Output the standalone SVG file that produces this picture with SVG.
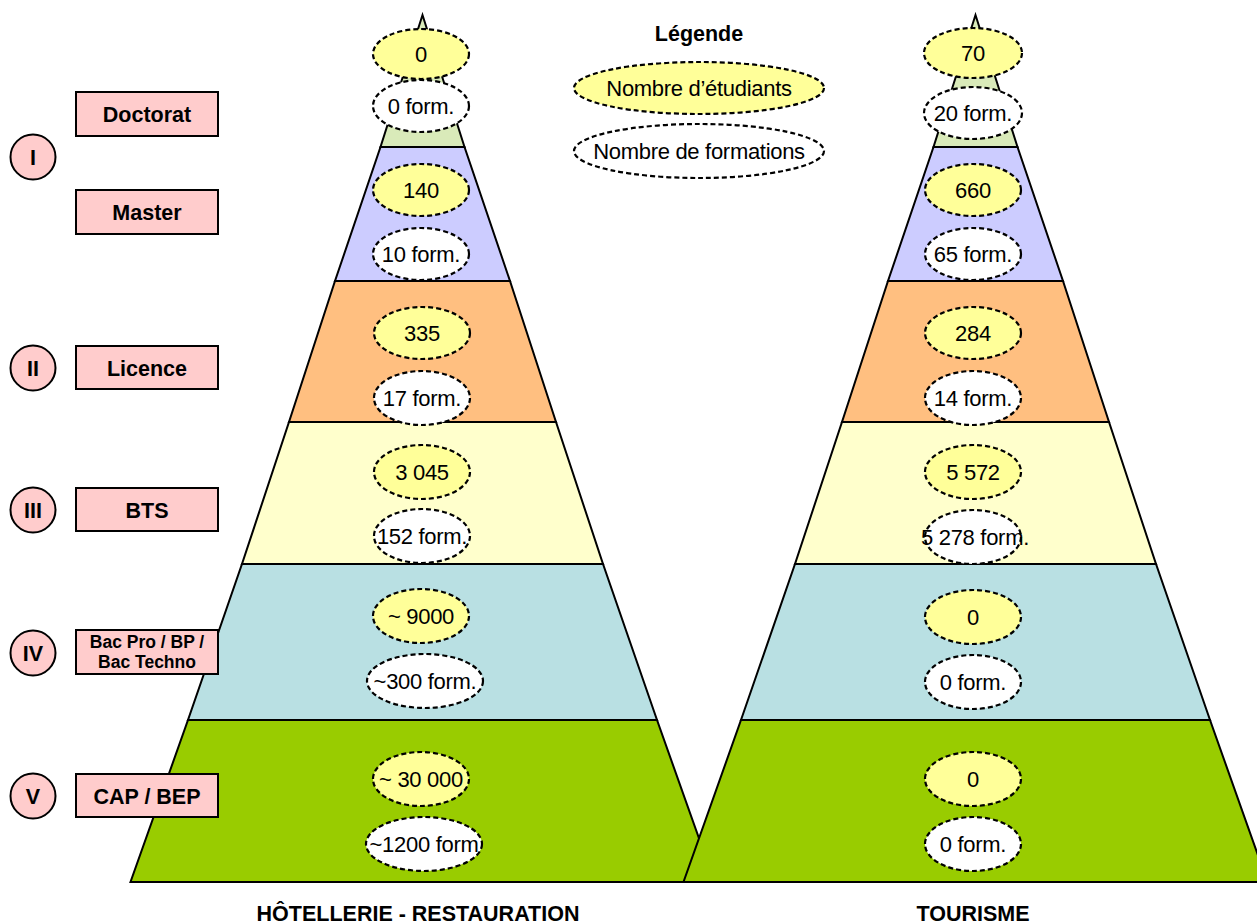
<svg xmlns="http://www.w3.org/2000/svg" width="1257" height="924" viewBox="0 0 1257 924">
<style>
.band{stroke:#000;stroke-width:2;stroke-linejoin:miter}
.b1{fill:#d9eab9}.b2{fill:#ccccff}.b3{fill:#ffbf80}.b4{fill:#ffffcc}.b5{fill:#b9e0e3}.b6{fill:#99cc00}
.ell{stroke:#000;stroke-width:2.2;stroke-dasharray:5 3}
.stu{fill:#ffff99}.frm{fill:#ffffff}
.t{font-family:"Liberation Sans",Arial,sans-serif;font-size:22px;fill:#000;text-anchor:middle;letter-spacing:-0.3px}
.lb{fill:#ffcccc;stroke:#000;stroke-width:2}
.bt{font-family:"Liberation Sans",Arial,sans-serif;font-weight:bold;font-size:21.5px;fill:#000;text-anchor:middle}
.bs{font-size:17.5px}
.title{font-size:21.5px}
</style>
<g id="pyramid-hotellerie">
<polygon class="band b1" points="422.5,15 464.5,147 380.5,147"/>
<polygon class="band b2" points="380.5,147 464.5,147 510,281 335,281"/>
<polygon class="band b3" points="335,281 510,281 556,422 289,422"/>
<polygon class="band b4" points="289,422 556,422 603,564 242,564"/>
<polygon class="band b5" points="242,564 603,564 657,720 188,720"/>
<polygon class="band b6" points="188,720 657,720 714.5,882 130.5,882"/>
</g>
<g id="pyramid-tourisme">
<polygon class="band b1" points="975.5,15 1017.5,147 933.5,147"/>
<polygon class="band b2" points="933.5,147 1017.5,147 1063,281 888,281"/>
<polygon class="band b3" points="888,281 1063,281 1109,422 842,422"/>
<polygon class="band b4" points="842,422 1109,422 1156,564 795,564"/>
<polygon class="band b5" points="795,564 1156,564 1210,720 741,720"/>
<polygon class="band b6" points="741,720 1210,720 1267.5,882 683.5,882"/>
</g>
<g id="legend">
<text class="bt" x="699" y="41">Légende</text>
<ellipse class="ell stu" cx="699" cy="88" rx="125" ry="26"/>
<text class="t" x="699" y="96">Nombre d’étudiants</text>
<ellipse class="ell frm" cx="699" cy="151" rx="125" ry="27"/>
<text class="t" x="699" y="159">Nombre de formations</text>
</g>
<g id="hotellerie-values">
<g id="h-doc-etu"><ellipse class="ell stu" cx="421" cy="54" rx="48" ry="25"/><text class="t" x="421" y="62">0</text></g>
<g id="h-doc-form"><ellipse class="ell frm" cx="421" cy="106" rx="48" ry="26"/><text class="t" x="421" y="114">0 form.</text></g>
<g id="h-mas-etu"><ellipse class="ell stu" cx="421" cy="190" rx="48" ry="26"/><text class="t" x="421" y="198">140</text></g>
<g id="h-mas-form"><ellipse class="ell frm" cx="421" cy="254" rx="48" ry="26"/><text class="t" x="421" y="262">10 form.</text></g>
<g id="h-lic-etu"><ellipse class="ell stu" cx="422" cy="333" rx="48" ry="26"/><text class="t" x="422" y="341">335</text></g>
<g id="h-lic-form"><ellipse class="ell frm" cx="422" cy="398" rx="48" ry="27"/><text class="t" x="422" y="406">17 form.</text></g>
<g id="h-bts-etu"><ellipse class="ell stu" cx="422" cy="472" rx="48" ry="27"/><text class="t" x="422" y="480">3 045</text></g>
<g id="h-bts-form"><ellipse class="ell frm" cx="422" cy="536" rx="48" ry="27"/><text class="t" x="422" y="544">152 form.</text></g>
<g id="h-bac-etu"><ellipse class="ell stu" cx="421" cy="616" rx="48" ry="27"/><text class="t" x="421" y="624">~ 9000</text></g>
<g id="h-bac-form"><ellipse class="ell frm" cx="425" cy="681" rx="58" ry="27"/><text class="t" x="425" y="689">~300 form.</text></g>
<g id="h-cap-etu"><ellipse class="ell stu" cx="421" cy="779" rx="48" ry="27"/><text class="t" x="421" y="787">~ 30 000</text></g>
<g id="h-cap-form"><ellipse class="ell frm" cx="424" cy="844" rx="58" ry="27"/><text class="t" x="424" y="852">~1200 form</text></g>
</g>
<g id="tourisme-values">
<g id="t-doc-etu"><ellipse class="ell stu" cx="973" cy="53" rx="49" ry="25"/><text class="t" x="973" y="61">70</text></g>
<g id="t-doc-form"><ellipse class="ell frm" cx="973" cy="113" rx="49" ry="26"/><text class="t" x="973" y="121">20 form.</text></g>
<g id="t-mas-etu"><ellipse class="ell stu" cx="973" cy="190" rx="48" ry="26"/><text class="t" x="973" y="198">660</text></g>
<g id="t-mas-form"><ellipse class="ell frm" cx="973" cy="254" rx="48" ry="26"/><text class="t" x="973" y="262">65 form.</text></g>
<g id="t-lic-etu"><ellipse class="ell stu" cx="973" cy="333" rx="48" ry="26"/><text class="t" x="973" y="341">284</text></g>
<g id="t-lic-form"><ellipse class="ell frm" cx="973" cy="398" rx="48" ry="27"/><text class="t" x="973" y="406">14 form.</text></g>
<g id="t-bts-etu"><ellipse class="ell stu" cx="973" cy="472" rx="48" ry="27"/><text class="t" x="973" y="480">5 572</text></g>
<g id="t-bts-form"><ellipse class="ell frm" cx="973" cy="537" rx="48" ry="27"/><text class="t" x="975" y="545">5 278 form.</text></g>
<g id="t-bac-etu"><ellipse class="ell stu" cx="973" cy="617" rx="48" ry="27"/><text class="t" x="973" y="625">0</text></g>
<g id="t-bac-form"><ellipse class="ell frm" cx="973" cy="682" rx="48" ry="27"/><text class="t" x="973" y="690">0 form.</text></g>
<g id="t-cap-etu"><ellipse class="ell stu" cx="973" cy="779" rx="48" ry="27"/><text class="t" x="973" y="787">0</text></g>
<g id="t-cap-form"><ellipse class="ell frm" cx="973" cy="844" rx="48" ry="27"/><text class="t" x="973" y="852">0 form.</text></g>
</g>
<g id="levels">
<g id="level-I"><circle class="lb" cx="33" cy="157" r="22.5"/><text class="bt" x="33" y="165">I</text></g>
<g id="level-II"><circle class="lb" cx="33" cy="368" r="22.5"/><text class="bt" x="33" y="376">II</text></g>
<g id="level-III"><circle class="lb" cx="33" cy="510" r="22.5"/><text class="bt" x="33" y="518">III</text></g>
<g id="level-IV"><circle class="lb" cx="33" cy="653" r="22.5"/><text class="bt" x="33" y="661">IV</text></g>
<g id="level-V"><circle class="lb" cx="33" cy="796" r="22.5"/><text class="bt" x="33" y="804">V</text></g>
</g>
<g id="diplomas">
<g id="doctorat"><rect class="lb" x="76" y="92" width="142" height="44"/><text class="bt" x="147" y="122">Doctorat</text></g>
<g id="master"><rect class="lb" x="76" y="190" width="142" height="44"/><text class="bt" x="147" y="220">Master</text></g>
<g id="licence"><rect class="lb" x="76" y="346" width="142" height="43"/><text class="bt" x="147" y="376">Licence</text></g>
<g id="bts"><rect class="lb" x="76" y="488" width="142" height="43"/><text class="bt" x="147" y="518">BTS</text></g>
<g id="bacpro"><rect class="lb" x="76" y="630" width="142" height="44"/><text class="bt bs" x="147" y="648">Bac Pro / BP /</text><text class="bt bs" x="147" y="668">Bac Techno</text></g>
<g id="cap"><rect class="lb" x="76" y="774" width="142" height="43"/><text class="bt" x="147" y="804">CAP / BEP</text></g>
</g>
<g id="titles">
<text class="bt title" x="418" y="921">HÔTELLERIE - RESTAURATION</text>
<text class="bt title" x="973" y="921">TOURISME</text>
</g>
</svg>
